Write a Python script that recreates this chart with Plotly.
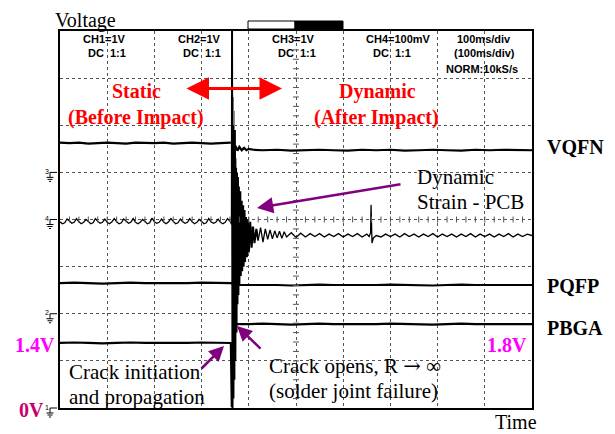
import plotly.graph_objects as go

# ---------------- data (time in ms, value in screen divisions) ----------------
VQFN_PRE_T = [0, 20, 40, 60, 80, 100, 120, 140, 160, 180, 200, 220, 240, 260, 280, 300, 320, 340, 362]
VQFN_PRE_V = [5.63, 5.62, 5.63, 5.61, 5.62, 5.63, 5.62, 5.61, 5.63, 5.62, 5.62, 5.63, 5.61, 5.62, 5.63, 5.62, 5.61, 5.62, 5.63]
VQFN_POST_T = [364, 368, 372, 376, 380, 385, 390, 395, 400, 410, 430, 460, 490, 520, 550, 580, 610, 640, 670, 700, 730, 760, 790, 820, 850, 880, 910, 940, 970, 1000]
VQFN_POST_V = [5.62, 5.50, 5.56, 5.46, 5.54, 5.47, 5.52, 5.47, 5.50, 5.48, 5.47, 5.48, 5.46, 5.47, 5.48, 5.47, 5.46, 5.48, 5.47, 5.48, 5.46, 5.47, 5.48, 5.47, 5.46, 5.48, 5.47, 5.48, 5.47, 5.47]

CH4_PRE_T = list(range(0, 365, 5))
CH4_PRE_V = [3.95, 3.91, 3.93, 4.01, 3.97, 3.92, 3.94, 4.02, 3.95, 3.91,
             3.94, 4.00, 3.96, 3.91, 3.93, 4.02, 3.96, 3.92, 3.94, 4.01,
             3.94, 3.91, 3.95, 4.02, 3.95, 3.91, 3.93, 4.01, 3.97, 3.92,
             3.94, 4.02, 3.94, 3.91, 3.94, 4.00, 3.96, 3.91, 3.93, 4.03,
             3.95, 3.92, 3.94, 4.01, 3.94, 3.91, 3.95, 4.02, 3.96, 3.91,
             3.93, 4.01, 3.95, 3.92, 3.94, 4.02, 3.95, 3.91, 3.94, 4.00,
             3.96, 3.91, 3.93, 4.02, 3.95, 3.92, 3.94, 4.01, 3.94, 3.91,
             3.94, 4.02, 3.96]
CH4_BURST_T = [362, 364, 364.5, 365.5, 366.5, 367.5, 368.5, 369.5, 370.5, 371.5,
               373, 374, 375, 376, 377, 378, 379, 380,
               382, 383, 385, 386, 388, 389, 391, 392,
               394, 396, 398, 400, 403, 406, 409, 412, 416, 420]
CH4_BURST_V = [3.96, 3.9, 8.0, 0.0, 6.0, 0.2, 5.6, 0.6, 5.9, 1.0,
               5.1, 1.6, 5.0, 2.2, 4.9, 2.4, 4.7, 2.6,
               4.6, 2.8, 4.4, 2.9, 4.3, 3.0, 4.2, 3.1,
               4.05, 3.2, 4.0, 3.3, 3.95, 3.4, 3.85, 3.5, 3.8, 3.55]
CH4_GHOST_T = [366, 367, 368, 369, 370, 371, 372, 374, 376, 378, 380, 383, 386, 390, 395, 400, 405]
CH4_GHOST_V = [6.6, 1.2, 6.3, 1.5, 5.5, 2.0, 5.3, 2.3, 4.7, 2.6, 4.4, 2.9, 4.2, 3.2, 3.95, 3.35, 3.85]
CH4_POST_T = [420, 425, 430, 435, 440, 445, 450, 455, 460, 465, 470, 475, 480, 490, 500,
              510, 520, 530, 540, 550, 560, 570, 580, 590, 600, 610, 620, 630, 640, 650,
              655, 658, 659, 660, 661, 664, 670, 680, 690, 700, 710, 720, 730, 740, 750,
              760, 770, 780, 790, 800, 810, 820, 830, 840, 850, 860, 870, 880, 890, 900,
              910, 920, 930, 940, 950, 960, 970, 980, 990, 1000]
CH4_POST_V = [3.57, 3.83, 3.52, 3.80, 3.58, 3.78, 3.59, 3.76, 3.61, 3.75, 3.60, 3.74, 3.63, 3.72, 3.62,
              3.71, 3.63, 3.70, 3.64, 3.70, 3.63, 3.69, 3.64, 3.70, 3.63, 3.69, 3.64, 3.70, 3.63, 3.69,
              3.64, 3.72, 4.31, 3.70, 3.50, 3.61, 3.66, 3.63, 3.69, 3.64, 3.69, 3.63, 3.70, 3.64, 3.69,
              3.63, 3.69, 3.64, 3.70, 3.63, 3.69, 3.64, 3.69, 3.63, 3.69, 3.64, 3.70, 3.63, 3.69, 3.64,
              3.69, 3.63, 3.69, 3.64, 3.70, 3.63, 3.69, 3.64, 3.69, 3.66]

PQFP_T = [0, 30, 60, 90, 120, 150, 180, 210, 240, 270, 300, 330, 362, 370, 400, 430, 460, 490, 520, 550, 580, 610, 640, 670, 700, 730, 760, 790, 820, 850, 880, 910, 940, 970, 1000]
PQFP_V = [2.65, 2.66, 2.65, 2.64, 2.65, 2.66, 2.65, 2.65, 2.64, 2.65, 2.66, 2.65, 2.65, 2.61, 2.61, 2.62, 2.61, 2.60, 2.61, 2.62, 2.61, 2.61, 2.60, 2.61, 2.62, 2.61, 2.61, 2.60, 2.61, 2.62, 2.61, 2.61, 2.60, 2.61, 2.61]

PBGA_T = [0, 30, 60, 90, 120, 150, 180, 210, 240, 270, 300, 330, 362, 364, 369, 400, 430, 460, 490, 520, 550, 580, 610, 640, 670, 700, 730, 760, 790, 820, 850, 880, 910, 940, 970, 1000]
PBGA_V = [1.38, 1.39, 1.38, 1.37, 1.38, 1.39, 1.38, 1.38, 1.37, 1.38, 1.39, 1.38, 1.38, 0.02, 1.78, 1.78, 1.79, 1.78, 1.77, 1.78, 1.79, 1.78, 1.78, 1.77, 1.78, 1.79, 1.78, 1.78, 1.77, 1.78, 1.79, 1.78, 1.78, 1.77, 1.78, 1.78]

CHANNEL_GROUNDS = [5, 4, 2, 0]
CHANNEL_NUMS = ["3", "4", "2", "1"]

HEADER = [("CH1=1V", 128, 39, "right"), ("DC\u00a0\u00a01:1", 128, 53, "right"),
          ("CH2=1V", 223, 39, "right"), ("DC\u00a0\u00a01:1", 223, 53, "right"),
          ("CH3=1V", 317, 39, "right"), ("DC\u00a0\u00a01:1", 318, 53, "right"),
          ("CH4=100mV", 433, 39, "right"), ("DC\u00a0\u00a01:1", 413, 53, "right"),
          ("100ms/div", 484, 39, "center"), ("(100ms/div)", 484, 53, "center"),
          ("NORM:10kS/s", 482, 69, "center")]

# ---------------- layout geometry ----------------
W, H = 615, 434
L, R, T, B = 60, 532, 31, 408
PXV = (B - T) / 8.0
PXT = (R - L) / 1000.0


def px(xp):
    return (xp - L) / (R - L)


def py(yp):
    return (B - yp) / (B - T)


fig = go.Figure()


def add(tt, vv, color="black", width=2.0):
    assert len(tt) == len(vv)
    fig.add_trace(go.Scatter(x=tt, y=vv, mode="lines",
                             line=dict(color=color, width=width), hoverinfo="skip"))


add(CH4_GHOST_T, CH4_GHOST_V, "#8a8a8a", 2.5)
add(VQFN_PRE_T, VQFN_PRE_V, width=2.2)
add(VQFN_POST_T, VQFN_POST_V, width=2.2)
add(PQFP_T, PQFP_V, width=2.2)
add(PBGA_T, PBGA_V, width=2.2)
add(CH4_PRE_T, CH4_PRE_V, width=1.3)
add(CH4_BURST_T, CH4_BURST_V, width=2.0)
add(CH4_POST_T, CH4_POST_V, width=1.3)

shapes = []
# center graticule ticks
for i in range(1, 40):
    yv = i * 0.2
    shapes.append(dict(type="line", xref="x", yref="y", x0=500 - 3 / PXT, x1=500 + 3 / PXT,
                       y0=yv, y1=yv, line=dict(color="#555", width=1)))
for i in range(1, 50):
    tv = i * 20
    shapes.append(dict(type="line", xref="x", yref="y", x0=tv, x1=tv,
                       y0=4 - 3 / PXV, y1=4 + 3 / PXV, line=dict(color="#555", width=1)))
# top bar
shapes.append(dict(type="rect", xref="paper", yref="paper", x0=px(248), x1=px(295), y0=py(29), y1=py(21),
                   line=dict(color="black", width=1), fillcolor="white"))
shapes.append(dict(type="rect", xref="paper", yref="paper", x0=px(295), x1=px(343), y0=py(29), y1=py(21),
                   line=dict(color="black", width=1), fillcolor="black"))
# ground markers
annotations = []
for g, n in zip(CHANNEL_GROUNDS, CHANNEL_NUMS):
    yl = B - g * PXV
    for (a, b, c, d) in [(50, yl, 57, yl), (50, yl, 50, yl + 5), (46.5, yl + 5, 53.5, yl + 5),
                         (47.5, yl + 7, 52.5, yl + 7), (49, yl + 9, 51, yl + 9)]:
        shapes.append(dict(type="line", xref="paper", yref="paper", x0=px(a), x1=px(c),
                           y0=py(b), y1=py(d), line=dict(color="black", width=1)))
    annotations.append(dict(text=n, xref="paper", yref="paper", x=px(47), y=py(yl - 1),
                            xanchor="center", yanchor="middle", showarrow=False,
                            font=dict(family="Liberation Sans", size=7, color="black")))


def txt(s, x, y, size, color="black", bold=False, anchor="left", family="Liberation Serif"):
    if bold:
        s = "<b>" + s + "</b>"
    annotations.append(dict(text=s, xref="paper", yref="paper", x=px(x), y=py(y),
                            xanchor=anchor, yanchor="middle", showarrow=False,
                            font=dict(family=family, size=size, color=color)))


for s, x, y, a in HEADER:
    txt(s, x, y, 11, bold=True, anchor=a, family="Liberation Sans")

txt("Voltage", 53, 20, 20)
txt("Time", 493, 422, 20)
txt("Static", 136, 91, 20, "#ff0000", True, "center")
txt("(Before Impact)", 135.5, 118, 20, "#ff0000", True, "center")
txt("Dynamic", 377, 91, 20, "#ff0000", True, "center")
txt("(After Impact)", 376.5, 118, 20, "#ff0000", True, "center")
txt("VQFN", 545, 147, 20, bold=True)
txt("PQFP", 545, 286, 20, bold=True)
txt("PBGA", 545, 328, 20, bold=True)
txt("1.4V", 13, 345, 20, "#ff00ff", True)
txt("1.8V", 485, 345, 20, "#ff00ff", True)
txt("0V", 17, 410, 20, "#c8006e", True)
txt("Dynamic", 415, 177, 21)
txt("Strain - PCB", 415, 202, 21)
txt("Crack initiation", 67, 372, 21)
txt("and propagation", 67, 397, 21)
txt("Crack opens, R <span style=\"font-family:'DejaVu Serif'\">\u2192</span> \u221e", 267, 366, 21)
txt("(solder joint failure)", 267, 391, 21)


def arrow(hx, hy, tx, ty, color, width, size, both=False):
    annotations.append(dict(text="", xref="paper", yref="paper", x=px(hx), y=py(hy),
                            ax=tx - hx, ay=ty - hy, axref="pixel", ayref="pixel",
                            showarrow=True, arrowhead=2, arrowsize=size, arrowwidth=width,
                            arrowcolor=color, arrowside="end+start" if both else "end"))


arrow(282, 88.5, 185, 88.5, "#ff0000", 3, 1.5, both=True)
arrow(257, 208, 402, 184, "#800080", 2.5, 1.3)
arrow(224, 346, 200, 370, "#800080", 2.5, 1.2)
arrow(237, 326, 262, 350, "#800080", 2.5, 1.2)

axis_common = dict(showgrid=True, gridcolor="#555", griddash="dot", gridwidth=1,
                   showticklabels=False, ticks="", zeroline=False, showline=True,
                   linecolor="black", linewidth=1.5, mirror=True, fixedrange=True)

fig.update_layout(
    width=W, height=H, margin=dict(l=L, r=W - R, t=T, b=H - B, pad=0),
    paper_bgcolor="white", plot_bgcolor="white", showlegend=False,
    xaxis=dict(range=[0, 1000], dtick=100, tick0=0, **axis_common),
    yaxis=dict(range=[0, 8], dtick=1, tick0=0, **axis_common),
    shapes=shapes, annotations=annotations,
)

fig.write_html("out.html")
